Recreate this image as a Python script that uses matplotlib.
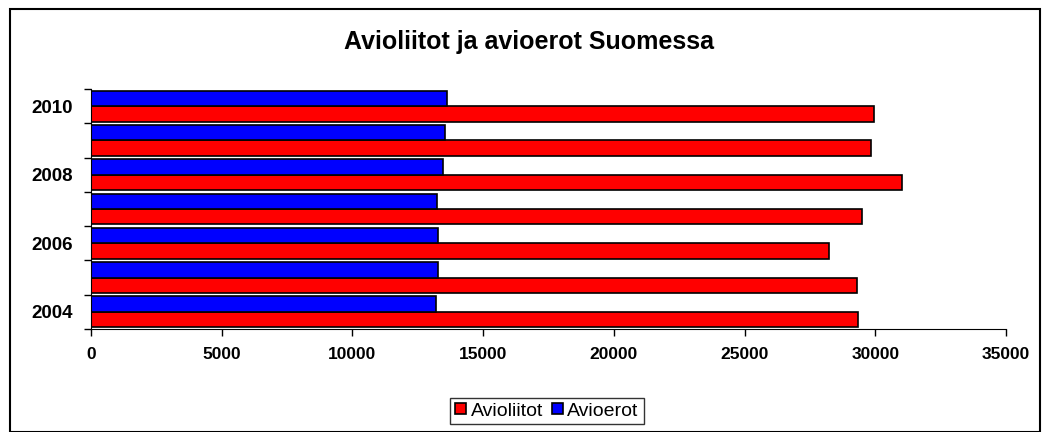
import numpy as np
import matplotlib.pyplot as plt
from matplotlib.patches import Rectangle

plt.rcParams['font.family'] = ['Liberation Sans', 'DejaVu Sans']

years = [2004, 2005, 2006, 2007, 2008, 2009, 2010]
avioliitot = [29342, 29283, 28236, 29497, 31014, 29836, 29952]
avioerot = [13205, 13255, 13255, 13224, 13463, 13527, 13619]
shown_years = ['2004', '2006', '2008', '2010']

fig = plt.figure(figsize=(10.5, 4.32), dpi=100)
fig.patches.append(Rectangle((10 / 1050, 0), 1030 / 1050, 1 - 9 / 432,
                             transform=fig.transFigure, fill=False,
                             edgecolor='black', linewidth=1.5))
ax = fig.add_axes([91 / 1050, 1 - 329 / 432, 915 / 1050, 240 / 432])

y = np.arange(len(years))
h = 0.45
ax.barh(y - h / 2, avioliitot, height=h, color='#ff0000', edgecolor='black',
        linewidth=1.2, label='Avioliitot')
ax.barh(y + h / 2, avioerot, height=h, color='#0000ff', edgecolor='black',
        linewidth=1.2, label='Avioerot')

ax.set_xlim(0, 35000)
ax.set_ylim(-0.5, len(years) - 0.5)
ax.set_xticks(range(0, 35001, 5000))
ax.set_yticks([0, 2, 4, 6])
ax.set_yticklabels(shown_years)
ax.set_yticks(np.arange(-0.5, len(years), 1), minor=True)
ax.tick_params(axis='y', which='major', length=0, pad=13)
ax.tick_params(axis='y', which='minor', length=5, width=1)
ax.tick_params(axis='x', length=5, width=1, pad=8)
for lab in ax.get_xticklabels():
    lab.set_fontweight('bold')
    lab.set_fontsize(12.5)
for lab in ax.get_yticklabels():
    lab.set_fontweight('bold')
    lab.set_fontsize(13.5)

for s in ['top', 'right']:
    ax.spines[s].set_visible(False)

fig.text(529 / 1050, 1 - 42 / 432, 'Avioliitot ja avioerot Suomessa', ha='center',
         va='center', fontsize=18, fontweight='bold')

leg = fig.legend(loc='center', bbox_to_anchor=(547 / 1050, 1 - 411 / 432),
                 ncol=2, fontsize=14, frameon=True, fancybox=False,
                 handlelength=0.55, handleheight=0.55, handletextpad=0.25,
                 columnspacing=0.45, borderpad=0.25, borderaxespad=0,
                 edgecolor='black')
leg.get_frame().set_linewidth(1)

fig.savefig('out.png', dpi=100)
